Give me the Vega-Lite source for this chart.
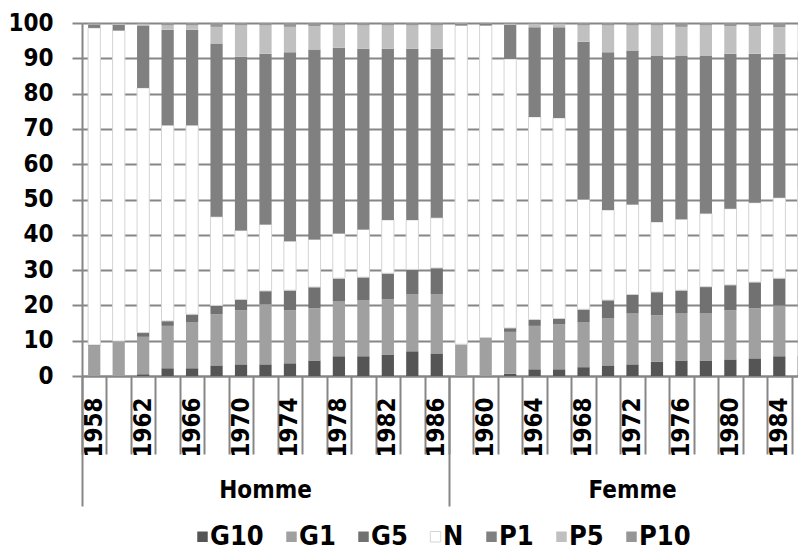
{
  "$schema": "https://vega.github.io/schema/vega-lite/v6.json",
  "autosize": {"type": "none"},
  "padding": {"left": 82, "top": 23, "right": 0, "bottom": 179},
  "width": 716,
  "height": 353,
  "background": "white",
  "config": {
    "font": "DejaVu Sans Condensed, Liberation Sans Narrow, DejaVu Sans",
    "view": {"stroke": null},
    "axis": {"labelFontWeight": "bold"},
    "legend": {"labelFontWeight": "bold", "layout": {"bottom": {"anchor": "middle"}}}
  },
  "data": {
    "values": [
      {"sexe": "Homme", "annee": 1958, "G10": 0, "G1": 8.5, "G5": 0.3, "N": 89.8, "P1": 1.0, "P5": 0.2, "P10": 0.2},
      {"sexe": "Homme", "annee": 1960, "G10": 0, "G1": 9.8, "G5": 0.1, "N": 88.0, "P1": 1.6, "P5": 0.3, "P10": 0.2},
      {"sexe": "Homme", "annee": 1962, "G10": 0.5, "G1": 10.6, "G5": 1.2, "N": 69.3, "P1": 17.7, "P5": 0.5, "P10": 0.2},
      {"sexe": "Homme", "annee": 1964, "G10": 2.2, "G1": 12.0, "G5": 1.4, "N": 55.4, "P1": 27.1, "P5": 1.2, "P10": 0.7},
      {"sexe": "Homme", "annee": 1966, "G10": 2.2, "G1": 13.1, "G5": 2.2, "N": 53.5, "P1": 27.1, "P5": 1.2, "P10": 0.7},
      {"sexe": "Homme", "annee": 1968, "G10": 3.0, "G1": 14.5, "G5": 2.5, "N": 25.1, "P1": 49.1, "P5": 4.7, "P10": 1.1},
      {"sexe": "Homme", "annee": 1970, "G10": 3.3, "G1": 15.3, "G5": 3.1, "N": 19.5, "P1": 49.2, "P5": 8.9, "P10": 0.7},
      {"sexe": "Homme", "annee": 1972, "G10": 3.3, "G1": 17.0, "G5": 3.8, "N": 18.8, "P1": 48.4, "P5": 8.0, "P10": 0.7},
      {"sexe": "Homme", "annee": 1974, "G10": 3.6, "G1": 15.0, "G5": 5.7, "N": 13.9, "P1": 53.5, "P5": 7.2, "P10": 1.1},
      {"sexe": "Homme", "annee": 1976, "G10": 4.4, "G1": 14.8, "G5": 6.0, "N": 13.5, "P1": 53.8, "P5": 6.6, "P10": 0.9},
      {"sexe": "Homme", "annee": 1978, "G10": 5.6, "G1": 15.5, "G5": 6.6, "N": 12.7, "P1": 52.6, "P5": 6.3, "P10": 0.7},
      {"sexe": "Homme", "annee": 1980, "G10": 5.6, "G1": 15.8, "G5": 6.6, "N": 13.5, "P1": 51.2, "P5": 6.6, "P10": 0.7},
      {"sexe": "Homme", "annee": 1982, "G10": 6.1, "G1": 15.6, "G5": 7.4, "N": 15.1, "P1": 48.5, "P5": 6.6, "P10": 0.7},
      {"sexe": "Homme", "annee": 1984, "G10": 7.0, "G1": 16.1, "G5": 7.1, "N": 14.0, "P1": 48.5, "P5": 6.6, "P10": 0.7},
      {"sexe": "Homme", "annee": 1986, "G10": 6.4, "G1": 16.7, "G5": 7.5, "N": 14.2, "P1": 47.9, "P5": 6.6, "P10": 0.7},
      {"sexe": "Femme", "annee": 1958, "G10": 0, "G1": 8.9, "G5": 0.1, "N": 90.3, "P1": 0.4, "P5": 0.2, "P10": 0.1},
      {"sexe": "Femme", "annee": 1960, "G10": 0, "G1": 10.8, "G5": 0.1, "N": 88.4, "P1": 0.5, "P5": 0.1, "P10": 0.1},
      {"sexe": "Femme", "annee": 1962, "G10": 0.6, "G1": 11.9, "G5": 1.1, "N": 76.2, "P1": 9.7, "P5": 0.3, "P10": 0.2},
      {"sexe": "Femme", "annee": 1964, "G10": 1.9, "G1": 12.3, "G5": 1.8, "N": 57.4, "P1": 25.4, "P5": 0.9, "P10": 0.3},
      {"sexe": "Femme", "annee": 1966, "G10": 1.9, "G1": 12.7, "G5": 1.7, "N": 56.8, "P1": 25.7, "P5": 0.9, "P10": 0.3},
      {"sexe": "Femme", "annee": 1968, "G10": 2.5, "G1": 12.8, "G5": 3.6, "N": 31.1, "P1": 44.7, "P5": 4.6, "P10": 0.7},
      {"sexe": "Femme", "annee": 1970, "G10": 3.0, "G1": 13.3, "G5": 5.2, "N": 25.5, "P1": 44.7, "P5": 7.6, "P10": 0.7},
      {"sexe": "Femme", "annee": 1972, "G10": 3.3, "G1": 14.4, "G5": 5.4, "N": 25.5, "P1": 43.6, "P5": 7.1, "P10": 0.7},
      {"sexe": "Femme", "annee": 1974, "G10": 4.0, "G1": 13.2, "G5": 6.6, "N": 19.8, "P1": 47.2, "P5": 8.5, "P10": 0.7},
      {"sexe": "Femme", "annee": 1976, "G10": 4.4, "G1": 13.3, "G5": 6.6, "N": 20.1, "P1": 46.4, "P5": 8.1, "P10": 1.1},
      {"sexe": "Femme", "annee": 1978, "G10": 4.4, "G1": 13.3, "G5": 7.6, "N": 20.7, "P1": 44.8, "P5": 8.5, "P10": 0.7},
      {"sexe": "Femme", "annee": 1980, "G10": 4.7, "G1": 13.9, "G5": 7.2, "N": 21.6, "P1": 43.9, "P5": 7.8, "P10": 0.9},
      {"sexe": "Femme", "annee": 1982, "G10": 5.0, "G1": 14.2, "G5": 7.4, "N": 22.5, "P1": 42.2, "P5": 7.8, "P10": 0.9},
      {"sexe": "Femme", "annee": 1984, "G10": 5.6, "G1": 14.4, "G5": 7.7, "N": 22.8, "P1": 40.8, "P5": 7.5, "P10": 1.2},
      {"sexe": "Femme", "annee": 1986, "G10": 5.8, "G1": 14.8, "G5": 7.6, "N": 24.6, "P1": 39.2, "P5": 7.2, "P10": 0.8}
    ]
  },
  "transform": [
    {"fold": ["G10", "G1", "G5", "N", "P1", "P5", "P10"], "as": ["serie", "valeur"]},
    {"calculate": "datum.sexe + ' ' + datum.annee", "as": "cat"},
    {"calculate": "indexof(['G10','G1','G5','N','P1','P5','P10'], datum.serie)", "as": "rang"}
  ],
  "resolve": {"axis": {"x": "independent"}},
  "layer": [
    {
      "mark": {"type": "bar", "width": {"band": 0.5}, "strokeWidth": 1},
      "encoding": {
        "x": {
          "field": "cat", "type": "nominal", "sort": null,
          "scale": {"range": [0, 734], "paddingInner": 0, "paddingOuter": 0},
          "axis": {
            "title": null, "orient": "bottom",
            "domainColor": "#868686", "domainWidth": 2,
            "tickBand": "extent", "tickColor": "#868686", "tickWidth": 2, "tickSize": 78,
            "labelAngle": 270, "labelFontSize": 24, "labelColor": "black",
            "labelPadding": -57, "labelOverlap": false, "labelBound": false, "labelFlush": false,
            "labelExpr": "((split(datum.value, ' ')[0] == 'Homme') ? ((+split(datum.value, ' ')[1]) % 4 == 2) : ((+split(datum.value, ' ')[1]) % 4 == 0)) ? split(datum.value, ' ')[1] : ''",
            "grid": false
          }
        },
        "y": {
          "field": "valeur", "type": "quantitative", "stack": "zero",
          "scale": {"domain": [0, 100], "nice": false},
          "axis": {
            "title": null, "values": [0, 10, 20, 30, 40, 50, 60, 70, 80, 90, 100],
            "domainColor": "#868686", "domainWidth": 2,
            "tickColor": "#868686", "tickWidth": 2, "tickSize": 10,
            "labelFontSize": 24, "labelColor": "black", "labelPadding": 19,
            "grid": true, "gridColor": "#868686", "gridWidth": 2
          }
        },
        "color": {
          "field": "serie", "type": "nominal",
          "sort": ["G10", "G1", "G5", "N", "P1", "P5", "P10"],
          "scale": {
            "domain": ["G10", "G1", "G5", "N", "P1", "P5", "P10"],
            "range": ["#555555", "#a0a0a0", "#717171", "#ffffff", "#808080", "#c0c0c0", "#969696"]
          },
          "legend": {
            "title": null, "orient": "bottom", "direction": "horizontal",
            "symbolType": "square", "symbolSize": 110, "symbolStrokeWidth": 1,
            "labelFontSize": 27, "labelColor": "black", "labelOffset": -6,
            "columnPadding": 14, "offset": 16
          }
        },
        "stroke": {
          "field": "serie", "type": "nominal",
          "sort": ["G10", "G1", "G5", "N", "P1", "P5", "P10"],
          "scale": {
            "domain": ["G10", "G1", "G5", "N", "P1", "P5", "P10"],
            "range": ["transparent", "transparent", "transparent", "#d4d4d4", "transparent", "transparent", "transparent"]
          },
          "legend": {
            "title": null, "orient": "bottom", "direction": "horizontal",
            "symbolType": "square", "symbolSize": 110, "symbolStrokeWidth": 1,
            "labelFontSize": 27, "labelColor": "black", "labelOffset": -6,
            "columnPadding": 14, "offset": 16
          }
        },
        "order": {"field": "rang", "type": "quantitative"}
      }
    },
    {
      "mark": {"type": "rule", "opacity": 0},
      "encoding": {
        "x": {
          "field": "cat", "type": "nominal", "sort": null,
          "axis": {
            "title": null, "orient": "bottom",
            "values": ["Homme 1958", "Femme 1958"], "bandPosition": 0,
            "domain": false, "labels": false, "grid": false,
            "ticks": true, "tickSize": 130, "tickColor": "#868686", "tickWidth": 2
          }
        }
      }
    },
    {
      "mark": {"type": "rule", "opacity": 0},
      "encoding": {
        "x": {
          "field": "cat", "type": "nominal", "sort": null,
          "axis": {
            "title": null, "orient": "bottom",
            "values": ["Homme 1972", "Femme 1972"],
            "domain": false, "ticks": false, "grid": false,
            "labelExpr": "split(datum.value, ' ')[0]",
            "labelFontSize": 24, "labelColor": "black", "labelAngle": 0,
            "labelBaseline": "top", "labelPadding": 102
          }
        }
      }
    }
  ]
}
